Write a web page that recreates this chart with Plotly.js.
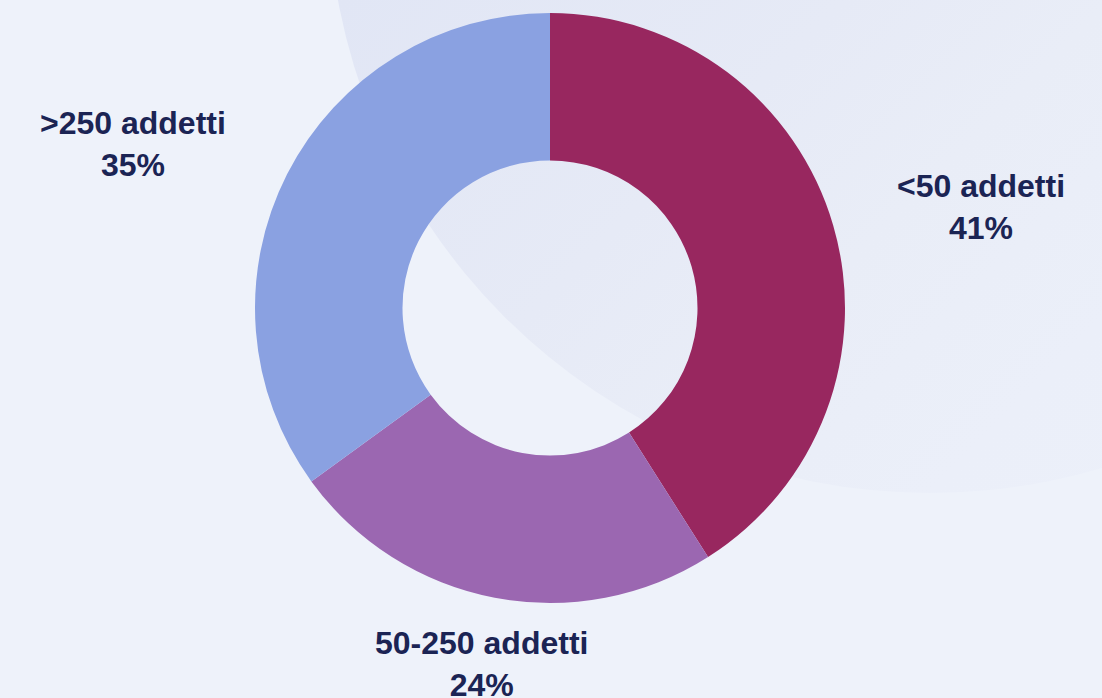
<!DOCTYPE html>
<html>
<head>
<meta charset="utf-8">
<script src="https://cdn.plot.ly/plotly-3.0.1.min.js"></script>
<style>
  html, body { margin: 0; padding: 0; background: #eef2fa; overflow: hidden; }
  #wrap { position: relative; width: 1102px; height: 698px; overflow: hidden; background: #eef2fa; }
  #deco {
    position: absolute; left: 328px; top: -711px; width: 1204px; height: 1204px;
    border-radius: 50%;
    background: linear-gradient(135deg, #dde3f4 0%, #e1e6f5 30%, #e6eaf6 51%, #e9edf7 62%, #ebeff9 75%, #edf1fa 100%);
  }
  #chart { position: absolute; left: 0; top: 0; width: 1102px; height: 698px; }
</style>
</head>
<body>
<div id="wrap">
  <div id="deco"></div>
  <div id="chart"></div>
</div>
<script>
// Data
const categories = ['<50 addetti', '50-250 addetti', '>250 addetti'];
const values = [41, 24, 35];
const sliceColors = ['#98275f', '#9b67b1', '#8aa1e1'];

// Layout constants (pixel geometry of the page)
const W = 1102, H = 698;
const cx = 550, cy = 308, R = 295;
const labelRadius = [442, 360, 446];
const labelNudge = [[7, 22], [-1, 2], [-20, 38]];

function esc(s) { return s.replace(/</g, '&lt;').replace(/>/g, '&gt;'); }

const total = values.reduce((a, b) => a + b, 0);
let cum = 0;
const annotations = categories.map((c, i) => {
  const mid = (cum + values[i] / 2) / total * 2 * Math.PI;
  cum += values[i];
  const px = cx + labelRadius[i] * Math.sin(mid) + labelNudge[i][0];
  const py = cy - labelRadius[i] * Math.cos(mid) + labelNudge[i][1];
  const pct = Math.round(values[i] / total * 100);
  return {
    xref: 'paper', yref: 'paper',
    x: px / W, y: 1 - py / H,
    xanchor: 'center', yanchor: 'middle',
    showarrow: false,
    align: 'center',
    text: '<b>' + esc(c) + '<br>' + pct + '%</b>',
    font: { family: 'Liberation Sans, Arial, sans-serif', size: 32, color: '#1b2454' }
  };
});

const trace = {
  type: 'pie',
  labels: categories,
  values: values,
  hole: 0.5,
  sort: false,
  direction: 'clockwise',
  rotation: 0,
  textinfo: 'none',
  hoverinfo: 'label+percent',
  marker: { colors: sliceColors, line: { width: 0 } },
  domain: {
    x: [(cx - R) / W, (cx + R) / W],
    y: [1 - (cy + R) / H, 1 - (cy - R) / H]
  },
  showlegend: false
};

const layout = {
  width: W, height: H,
  margin: { l: 0, r: 0, t: 0, b: 0 },
  paper_bgcolor: 'rgba(0,0,0,0)',
  plot_bgcolor: 'rgba(0,0,0,0)',
  showlegend: false,
  annotations: annotations
};

Plotly.newPlot('chart', [trace], layout, { displayModeBar: false, staticPlot: true });
</script>
</body>
</html>
